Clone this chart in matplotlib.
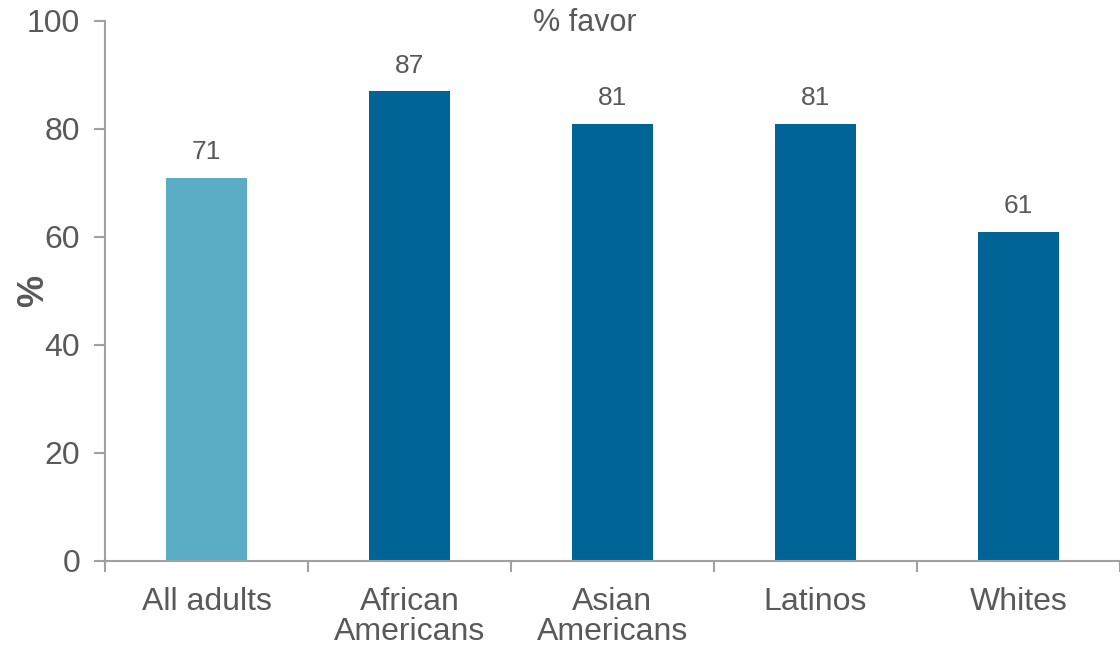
import matplotlib
matplotlib.use('Agg')
import matplotlib.pyplot as plt
import numpy as np

categories = ['All adults', 'African\nAmericans', 'Asian\nAmericans', 'Latinos', 'Whites']
values = [71, 87, 81, 81, 61]
bar_colors = ['#5aadc5', '#006496', '#006496', '#006496', '#006496']

plt.rcParams['font.family'] = ['Liberation Sans', 'DejaVu Sans']
text_color = '#595959'
spine_color = '#a0a0a0'

fig = plt.figure(figsize=(11.2, 6.49), dpi=100)
ax = fig.add_axes([105 / 1120, 1 - 561 / 649, 1 - 105 / 1120, (561 - 21) / 649])

x = np.arange(len(categories))
bars = ax.bar(x, values, width=0.4, color=bar_colors, zorder=2)

for rect, v in zip(bars, values):
    ax.text(rect.get_x() + rect.get_width() / 2, v + 2.5, f'{v}',
            ha='center', va='bottom', fontsize=19, color=text_color)

ax.set_xlim(-0.5, len(categories) - 0.5)
ax.set_ylim(0, 100)
ax.set_yticks([0, 20, 40, 60, 80, 100])
ax.set_xticks(x)
ax.set_xticklabels(categories, linespacing=1.0)
ax.set_xticks(np.arange(-0.5, len(categories), 1.0), minor=True)

ax.tick_params(axis='x', which='major', length=0, pad=19, labelsize=23, labelcolor=text_color)
ax.tick_params(axis='x', which='minor', length=8, width=1.5, color=spine_color, direction='out')
ax.tick_params(axis='y', which='major', length=8, width=1.5, color=spine_color, pad=10,
               labelsize=23, labelcolor=text_color)

for s in ['top', 'right']:
    ax.spines[s].set_visible(False)
for s in ['left', 'bottom']:
    ax.spines[s].set_color(spine_color)
    ax.spines[s].set_linewidth(1.5)

ax.set_ylabel('%', fontsize=26, fontweight='bold', color=text_color)
ax.yaxis.set_label_coords(-0.053, 0.5)
ax.text(0.473, 99.6, '% favor', transform=ax.get_yaxis_transform(), ha='center', va='center',
        fontsize=22, color=text_color)

fig.savefig('out.png', dpi=100)
